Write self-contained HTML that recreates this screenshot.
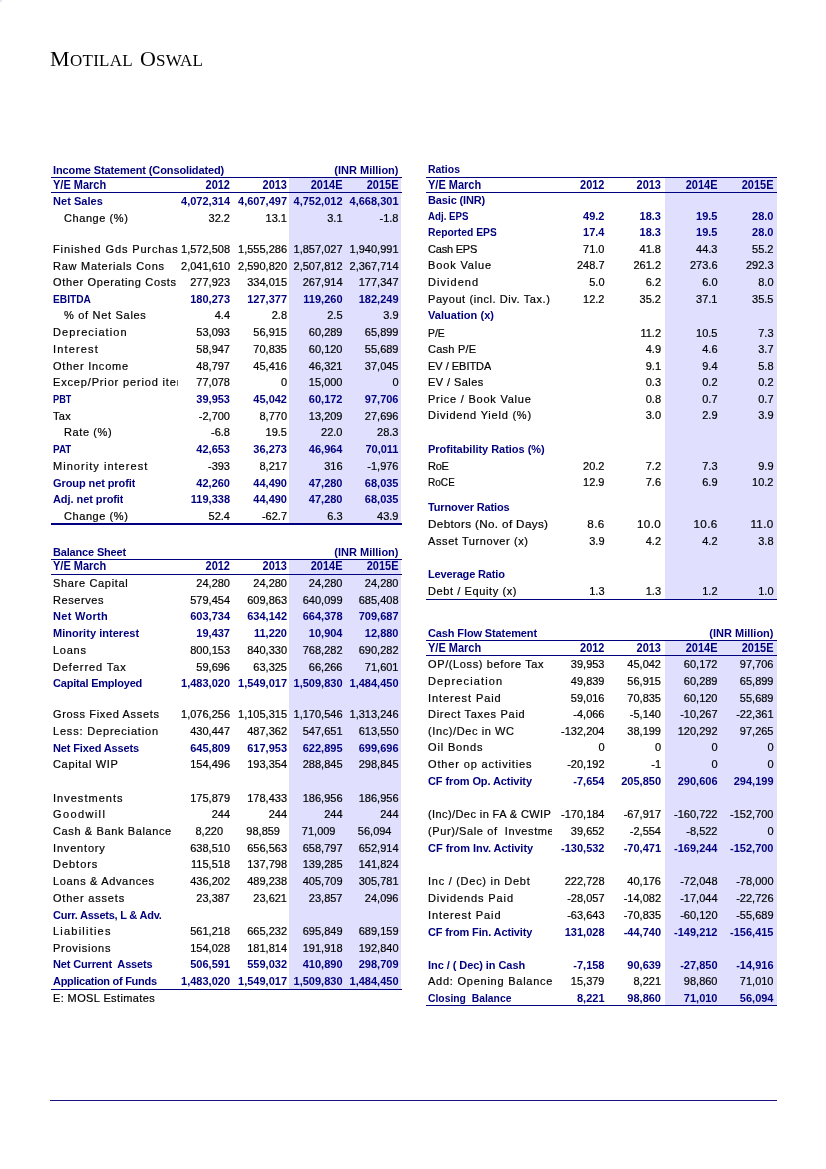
<!DOCTYPE html>
<html><head><meta charset="utf-8"><title>Motilal Oswal - Financials</title>
<style>
html,body{margin:0;padding:0;background:#fff;}
body{width:826px;height:1169px;position:relative;overflow:hidden;font-family:"Liberation Sans",Arial,sans-serif;font-size:11px;color:#000;}
.r{-webkit-text-stroke:0.2px #000;position:absolute;height:14px;line-height:14px;white-space:pre;}
.lb{overflow:hidden;}
.v{width:150px;text-align:right;}
.lb{letter-spacing:0.6px;}
.lb.b{letter-spacing:-0.2px;}
.v.h{transform:scaleY(1.13);transform-origin:0 10.7px;}
.lb.h{font-size:12px;letter-spacing:-0.2px;}
.b{font-weight:bold;color:#00007e;-webkit-text-stroke:0;}
.ln{position:absolute;background:#00007e;}
.sh{position:absolute;background:#e0e0fe;}
.logo{position:absolute;top:45px;font-family:"Liberation Serif","Times New Roman",serif;font-size:17px;letter-spacing:0.3px;color:#000;line-height:28px;height:28px;white-space:nowrap;}
.cap{font-size:22px;}
</style></head><body>
<div class="logo" style="left:50px"><span class="cap">M</span>OTILAL</div><div class="logo" style="left:140px;letter-spacing:0.2px"><span class="cap">O</span>SWAL</div>
<div class="sh" style="left:289px;top:178px;width:112px;height:347px"></div>
<div class="sh" style="left:289px;top:560px;width:112px;height:430px"></div>
<div class="sh" style="left:664.5px;top:178px;width:112.0px;height:422px"></div>
<div class="sh" style="left:664.5px;top:641px;width:112.0px;height:365px"></div>
<div class="r b lb" style="top:162.8px;left:53.0px;letter-spacing:-0.117px;">Income Statement (Consolidated)</div>
<div class="r b v" style="top:162.8px;left:248.5px;">(INR Million)</div>
<div class="ln" style="left:51px;top:177px;width:351px;height:1px"></div>
<div class="r b h lb" style="top:178px;left:53.0px;letter-spacing:0;transform:scaleX(0.9161);transform-origin:0 0;">Y/E March</div>
<div class="r b h v" style="top:178px;left:80px;">2012</div>
<div class="r b h v" style="top:178px;left:137px;">2013</div>
<div class="r b h v" style="top:178px;left:192.5px;">2014E</div>
<div class="r b h v" style="top:178px;left:248.5px;">2015E</div>
<div class="ln" style="left:51px;top:192px;width:351px;height:1px"></div>
<div class="r b lb" style="top:193.8px;left:53.0px;letter-spacing:0.036px;">Net Sales</div>
<div class="r b v" style="top:193.8px;left:80px;">4,072,314</div>
<div class="r b v" style="top:193.8px;left:137px;">4,607,497</div>
<div class="r b v" style="top:193.8px;left:192.5px;">4,752,012</div>
<div class="r b v" style="top:193.8px;left:248.5px;">4,668,301</div>
<div class="r lb" style="top:210.5px;left:64.0px;letter-spacing:0.569px;">Change (%)</div>
<div class="r v" style="top:210.5px;left:80px;">32.2</div>
<div class="r v" style="top:210.5px;left:137px;">13.1</div>
<div class="r v" style="top:210.5px;left:192.5px;">3.1</div>
<div class="r v" style="top:210.5px;left:248.5px;">-1.8</div>
<div class="r lb" style="top:241.7px;left:53.0px;width:125.0px;letter-spacing:0.870px;">Finished Gds Purchase</div>
<div class="r v" style="top:241.7px;left:80px;">1,572,508</div>
<div class="r v" style="top:241.7px;left:137px;">1,555,286</div>
<div class="r v" style="top:241.7px;left:192.5px;">1,857,027</div>
<div class="r v" style="top:241.7px;left:248.5px;">1,940,991</div>
<div class="r lb" style="top:258.6px;left:53.0px;letter-spacing:0.745px;">Raw Materials Cons</div>
<div class="r v" style="top:258.6px;left:80px;">2,041,610</div>
<div class="r v" style="top:258.6px;left:137px;">2,590,820</div>
<div class="r v" style="top:258.6px;left:192.5px;">2,507,812</div>
<div class="r v" style="top:258.6px;left:248.5px;">2,367,714</div>
<div class="r lb" style="top:275.3px;left:53.0px;letter-spacing:0.650px;">Other Operating Costs</div>
<div class="r v" style="top:275.3px;left:80px;">277,923</div>
<div class="r v" style="top:275.3px;left:137px;">334,015</div>
<div class="r v" style="top:275.3px;left:192.5px;">267,914</div>
<div class="r v" style="top:275.3px;left:248.5px;">177,347</div>
<div class="r b lb" style="top:291.8px;left:53.0px;letter-spacing:0;transform:scaleX(0.9250);transform-origin:0 0;">EBITDA</div>
<div class="r b v" style="top:291.8px;left:80px;">180,273</div>
<div class="r b v" style="top:291.8px;left:137px;">127,377</div>
<div class="r b v" style="top:291.8px;left:192.5px;">119,260</div>
<div class="r b v" style="top:291.8px;left:248.5px;">182,249</div>
<div class="r lb" style="top:308.4px;left:64.0px;letter-spacing:0.699px;">% of Net Sales</div>
<div class="r v" style="top:308.4px;left:80px;">4.4</div>
<div class="r v" style="top:308.4px;left:137px;">2.8</div>
<div class="r v" style="top:308.4px;left:192.5px;">2.5</div>
<div class="r v" style="top:308.4px;left:248.5px;">3.9</div>
<div class="r lb" style="top:325.1px;left:53.0px;letter-spacing:1.071px;">Depreciation</div>
<div class="r v" style="top:325.1px;left:80px;">53,093</div>
<div class="r v" style="top:325.1px;left:137px;">56,915</div>
<div class="r v" style="top:325.1px;left:192.5px;">60,289</div>
<div class="r v" style="top:325.1px;left:248.5px;">65,899</div>
<div class="r lb" style="top:341.8px;left:53.0px;letter-spacing:1.149px;">Interest</div>
<div class="r v" style="top:341.8px;left:80px;">58,947</div>
<div class="r v" style="top:341.8px;left:137px;">70,835</div>
<div class="r v" style="top:341.8px;left:192.5px;">60,120</div>
<div class="r v" style="top:341.8px;left:248.5px;">55,689</div>
<div class="r lb" style="top:358.5px;left:53.0px;letter-spacing:0.766px;">Other Income</div>
<div class="r v" style="top:358.5px;left:80px;">48,797</div>
<div class="r v" style="top:358.5px;left:137px;">45,416</div>
<div class="r v" style="top:358.5px;left:192.5px;">46,321</div>
<div class="r v" style="top:358.5px;left:248.5px;">37,045</div>
<div class="r lb" style="top:375.1px;left:53.0px;width:125.0px;letter-spacing:0.840px;">Excep/Prior period items</div>
<div class="r v" style="top:375.1px;left:80px;">77,078</div>
<div class="r v" style="top:375.1px;left:137px;">0</div>
<div class="r v" style="top:375.1px;left:192.5px;">15,000</div>
<div class="r v" style="top:375.1px;left:248.5px;">0</div>
<div class="r b lb" style="top:391.8px;left:53.0px;letter-spacing:0;transform:scaleX(0.8396);transform-origin:0 0;">PBT</div>
<div class="r b v" style="top:391.8px;left:80px;">39,953</div>
<div class="r b v" style="top:391.8px;left:137px;">45,042</div>
<div class="r b v" style="top:391.8px;left:192.5px;">60,172</div>
<div class="r b v" style="top:391.8px;left:248.5px;">97,706</div>
<div class="r lb" style="top:408.5px;left:53.0px;letter-spacing:0.300px;">Tax</div>
<div class="r v" style="top:408.5px;left:80px;">-2,700</div>
<div class="r v" style="top:408.5px;left:137px;">8,770</div>
<div class="r v" style="top:408.5px;left:192.5px;">13,209</div>
<div class="r v" style="top:408.5px;left:248.5px;">27,696</div>
<div class="r lb" style="top:425.2px;left:64.0px;letter-spacing:0.600px;">Rate (%)</div>
<div class="r v" style="top:425.2px;left:80px;">-6.8</div>
<div class="r v" style="top:425.2px;left:137px;">19.5</div>
<div class="r v" style="top:425.2px;left:192.5px;">22.0</div>
<div class="r v" style="top:425.2px;left:248.5px;">28.3</div>
<div class="r b lb" style="top:442.0px;left:53.0px;letter-spacing:0;transform:scaleX(0.9065);transform-origin:0 0;">PAT</div>
<div class="r b v" style="top:442.0px;left:80px;">42,653</div>
<div class="r b v" style="top:442.0px;left:137px;">36,273</div>
<div class="r b v" style="top:442.0px;left:192.5px;">46,964</div>
<div class="r b v" style="top:442.0px;left:248.5px;">70,011</div>
<div class="r lb" style="top:459.0px;left:53.0px;letter-spacing:1.037px;">Minority interest</div>
<div class="r v" style="top:459.0px;left:80px;">-393</div>
<div class="r v" style="top:459.0px;left:137px;">8,217</div>
<div class="r v" style="top:459.0px;left:192.5px;">316</div>
<div class="r v" style="top:459.0px;left:248.5px;">-1,976</div>
<div class="r b lb" style="top:475.6px;left:53.0px;letter-spacing:-0.090px;">Group net profit</div>
<div class="r b v" style="top:475.6px;left:80px;">42,260</div>
<div class="r b v" style="top:475.6px;left:137px;">44,490</div>
<div class="r b v" style="top:475.6px;left:192.5px;">47,280</div>
<div class="r b v" style="top:475.6px;left:248.5px;">68,035</div>
<div class="r b lb" style="top:492.3px;left:53.0px;letter-spacing:-0.069px;">Adj. net profit</div>
<div class="r b v" style="top:492.3px;left:80px;">119,338</div>
<div class="r b v" style="top:492.3px;left:137px;">44,490</div>
<div class="r b v" style="top:492.3px;left:192.5px;">47,280</div>
<div class="r b v" style="top:492.3px;left:248.5px;">68,035</div>
<div class="r lb" style="top:508.6px;left:64.0px;letter-spacing:0.569px;">Change (%)</div>
<div class="r v" style="top:508.6px;left:80px;">52.4</div>
<div class="r v" style="top:508.6px;left:137px;">-62.7</div>
<div class="r v" style="top:508.6px;left:192.5px;">6.3</div>
<div class="r v" style="top:508.6px;left:248.5px;">43.9</div>
<div class="ln" style="left:51px;top:523px;width:351px;height:2px"></div>
<div class="r b lb" style="top:544.5px;left:53.0px;letter-spacing:-0.169px;">Balance Sheet</div>
<div class="r b v" style="top:544.5px;left:248.5px;">(INR Million)</div>
<div class="ln" style="left:51px;top:559px;width:351px;height:1px"></div>
<div class="r b h lb" style="top:559.0px;left:53.0px;letter-spacing:0;transform:scaleX(0.9161);transform-origin:0 0;">Y/E March</div>
<div class="r b h v" style="top:559.0px;left:80px;">2012</div>
<div class="r b h v" style="top:559.0px;left:137px;">2013</div>
<div class="r b h v" style="top:559.0px;left:192.5px;">2014E</div>
<div class="r b h v" style="top:559.0px;left:248.5px;">2015E</div>
<div class="ln" style="left:51px;top:574px;width:351px;height:1px"></div>
<div class="r lb" style="top:576.0px;left:53.0px;letter-spacing:0.673px;">Share Capital</div>
<div class="r v" style="top:576.0px;left:80px;">24,280</div>
<div class="r v" style="top:576.0px;left:137px;">24,280</div>
<div class="r v" style="top:576.0px;left:192.5px;">24,280</div>
<div class="r v" style="top:576.0px;left:248.5px;">24,280</div>
<div class="r lb" style="top:592.6px;left:53.0px;letter-spacing:0.567px;">Reserves</div>
<div class="r v" style="top:592.6px;left:80px;">579,454</div>
<div class="r v" style="top:592.6px;left:137px;">609,863</div>
<div class="r v" style="top:592.6px;left:192.5px;">640,099</div>
<div class="r v" style="top:592.6px;left:248.5px;">685,408</div>
<div class="r b lb" style="top:609.3px;left:53.0px;letter-spacing:0.300px;">Net Worth</div>
<div class="r b v" style="top:609.3px;left:80px;">603,734</div>
<div class="r b v" style="top:609.3px;left:137px;">634,142</div>
<div class="r b v" style="top:609.3px;left:192.5px;">664,378</div>
<div class="r b v" style="top:609.3px;left:248.5px;">709,687</div>
<div class="r b lb" style="top:626.0px;left:53.0px;letter-spacing:0.033px;">Minority interest</div>
<div class="r b v" style="top:626.0px;left:80px;">19,437</div>
<div class="r b v" style="top:626.0px;left:137px;">11,220</div>
<div class="r b v" style="top:626.0px;left:192.5px;">10,904</div>
<div class="r b v" style="top:626.0px;left:248.5px;">12,880</div>
<div class="r lb" style="top:642.8px;left:53.0px;letter-spacing:0.750px;">Loans</div>
<div class="r v" style="top:642.8px;left:80px;">800,153</div>
<div class="r v" style="top:642.8px;left:137px;">840,330</div>
<div class="r v" style="top:642.8px;left:192.5px;">768,282</div>
<div class="r v" style="top:642.8px;left:248.5px;">690,282</div>
<div class="r lb" style="top:659.5px;left:53.0px;letter-spacing:0.905px;">Deferred Tax</div>
<div class="r v" style="top:659.5px;left:80px;">59,696</div>
<div class="r v" style="top:659.5px;left:137px;">63,325</div>
<div class="r v" style="top:659.5px;left:192.5px;">66,266</div>
<div class="r v" style="top:659.5px;left:248.5px;">71,601</div>
<div class="r b lb" style="top:676.0px;left:53.0px;letter-spacing:-0.200px;">Capital Employed</div>
<div class="r b v" style="top:676.0px;left:80px;">1,483,020</div>
<div class="r b v" style="top:676.0px;left:137px;">1,549,017</div>
<div class="r b v" style="top:676.0px;left:192.5px;">1,509,830</div>
<div class="r b v" style="top:676.0px;left:248.5px;">1,484,450</div>
<div class="r lb" style="top:707.4px;left:53.0px;letter-spacing:0.656px;">Gross Fixed Assets</div>
<div class="r v" style="top:707.4px;left:80px;">1,076,256</div>
<div class="r v" style="top:707.4px;left:137px;">1,105,315</div>
<div class="r v" style="top:707.4px;left:192.5px;">1,170,546</div>
<div class="r v" style="top:707.4px;left:248.5px;">1,313,246</div>
<div class="r lb" style="top:723.9px;left:53.0px;letter-spacing:0.818px;">Less: Depreciation</div>
<div class="r v" style="top:723.9px;left:80px;">430,447</div>
<div class="r v" style="top:723.9px;left:137px;">487,362</div>
<div class="r v" style="top:723.9px;left:192.5px;">547,651</div>
<div class="r v" style="top:723.9px;left:248.5px;">613,550</div>
<div class="r b lb" style="top:740.5px;left:53.0px;letter-spacing:-0.142px;">Net Fixed Assets</div>
<div class="r b v" style="top:740.5px;left:80px;">645,809</div>
<div class="r b v" style="top:740.5px;left:137px;">617,953</div>
<div class="r b v" style="top:740.5px;left:192.5px;">622,895</div>
<div class="r b v" style="top:740.5px;left:248.5px;">699,696</div>
<div class="r lb" style="top:757.2px;left:53.0px;letter-spacing:0.680px;">Capital WIP</div>
<div class="r v" style="top:757.2px;left:80px;">154,496</div>
<div class="r v" style="top:757.2px;left:137px;">193,354</div>
<div class="r v" style="top:757.2px;left:192.5px;">288,845</div>
<div class="r v" style="top:757.2px;left:248.5px;">298,845</div>
<div class="r lb" style="top:790.8px;left:53.0px;letter-spacing:1.020px;">Investments</div>
<div class="r v" style="top:790.8px;left:80px;">175,879</div>
<div class="r v" style="top:790.8px;left:137px;">178,433</div>
<div class="r v" style="top:790.8px;left:192.5px;">186,956</div>
<div class="r v" style="top:790.8px;left:248.5px;">186,956</div>
<div class="r lb" style="top:807.4px;left:53.0px;letter-spacing:1.380px;">Goodwill</div>
<div class="r v" style="top:807.4px;left:80px;">244</div>
<div class="r v" style="top:807.4px;left:137px;">244</div>
<div class="r v" style="top:807.4px;left:192.5px;">244</div>
<div class="r v" style="top:807.4px;left:248.5px;">244</div>
<div class="r lb" style="top:824.0px;left:53.0px;letter-spacing:0.622px;">Cash &amp; Bank Balance</div>
<div class="r v" style="top:824.0px;left:73px;">8,220</div>
<div class="r v" style="top:824.0px;left:130px;">98,859</div>
<div class="r v" style="top:824.0px;left:185.5px;">71,009</div>
<div class="r v" style="top:824.0px;left:241.5px;">56,094</div>
<div class="r lb" style="top:840.7px;left:53.0px;letter-spacing:0.825px;">Inventory</div>
<div class="r v" style="top:840.7px;left:80px;">638,510</div>
<div class="r v" style="top:840.7px;left:137px;">656,563</div>
<div class="r v" style="top:840.7px;left:192.5px;">658,797</div>
<div class="r v" style="top:840.7px;left:248.5px;">652,914</div>
<div class="r lb" style="top:857.4px;left:53.0px;letter-spacing:0.973px;">Debtors</div>
<div class="r v" style="top:857.4px;left:80px;">115,518</div>
<div class="r v" style="top:857.4px;left:137px;">137,798</div>
<div class="r v" style="top:857.4px;left:192.5px;">139,285</div>
<div class="r v" style="top:857.4px;left:248.5px;">141,824</div>
<div class="r lb" style="top:874.0px;left:53.0px;letter-spacing:0.666px;">Loans &amp; Advances</div>
<div class="r v" style="top:874.0px;left:80px;">436,202</div>
<div class="r v" style="top:874.0px;left:137px;">489,238</div>
<div class="r v" style="top:874.0px;left:192.5px;">405,709</div>
<div class="r v" style="top:874.0px;left:248.5px;">305,781</div>
<div class="r lb" style="top:890.7px;left:53.0px;letter-spacing:0.798px;">Other assets</div>
<div class="r v" style="top:890.7px;left:80px;">23,387</div>
<div class="r v" style="top:890.7px;left:137px;">23,621</div>
<div class="r v" style="top:890.7px;left:192.5px;">23,857</div>
<div class="r v" style="top:890.7px;left:248.5px;">24,096</div>
<div class="r b lb" style="top:907.5px;left:53.0px;letter-spacing:-0.234px;">Curr. Assets, L &amp; Adv.</div>
<div class="r lb" style="top:924.1px;left:53.0px;letter-spacing:1.220px;">Liabilities</div>
<div class="r v" style="top:924.1px;left:80px;">561,218</div>
<div class="r v" style="top:924.1px;left:137px;">665,232</div>
<div class="r v" style="top:924.1px;left:192.5px;">695,849</div>
<div class="r v" style="top:924.1px;left:248.5px;">689,159</div>
<div class="r lb" style="top:940.6px;left:53.0px;letter-spacing:0.742px;">Provisions</div>
<div class="r v" style="top:940.6px;left:80px;">154,028</div>
<div class="r v" style="top:940.6px;left:137px;">181,814</div>
<div class="r v" style="top:940.6px;left:192.5px;">191,918</div>
<div class="r v" style="top:940.6px;left:248.5px;">192,840</div>
<div class="r b lb" style="top:957.4px;left:53.0px;letter-spacing:-0.144px;">Net Current  Assets</div>
<div class="r b v" style="top:957.4px;left:80px;">506,591</div>
<div class="r b v" style="top:957.4px;left:137px;">559,032</div>
<div class="r b v" style="top:957.4px;left:192.5px;">410,890</div>
<div class="r b v" style="top:957.4px;left:248.5px;">298,709</div>
<div class="r b lb" style="top:974.1px;left:53.0px;letter-spacing:-0.282px;">Application of Funds</div>
<div class="r b v" style="top:974.1px;left:80px;">1,483,020</div>
<div class="r b v" style="top:974.1px;left:137px;">1,549,017</div>
<div class="r b v" style="top:974.1px;left:192.5px;">1,509,830</div>
<div class="r b v" style="top:974.1px;left:248.5px;">1,484,450</div>
<div class="ln" style="left:51px;top:988.5px;width:351px;height:1.5px"></div>
<div class="r lb" style="top:990.7px;left:53.0px;letter-spacing:0.390px;">E: MOSL Estimates</div>
<div class="r b lb" style="top:162.4px;left:428.0px;letter-spacing:0;transform:scaleX(0.9501);transform-origin:0 0;">Ratios</div>
<div class="ln" style="left:426px;top:177px;width:351px;height:1px"></div>
<div class="r b h lb" style="top:177.8px;left:428.0px;letter-spacing:0;transform:scaleX(0.9161);transform-origin:0 0;">Y/E March</div>
<div class="r b h v" style="top:177.8px;left:454.5px;">2012</div>
<div class="r b h v" style="top:177.8px;left:511px;">2013</div>
<div class="r b h v" style="top:177.8px;left:567.5px;">2014E</div>
<div class="r b h v" style="top:177.8px;left:623.5px;">2015E</div>
<div class="ln" style="left:426px;top:192px;width:351px;height:1px"></div>
<div class="r b lb" style="top:193.4px;left:428.0px;letter-spacing:-0.140px;">Basic (INR)</div>
<div class="r b lb" style="top:208.5px;left:428.0px;letter-spacing:0;transform:scaleX(0.8827);transform-origin:0 0;">Adj. EPS</div>
<div class="r b v" style="top:208.5px;left:454.5px;">49.2</div>
<div class="r b v" style="top:208.5px;left:511px;">18.3</div>
<div class="r b v" style="top:208.5px;left:567.5px;">19.5</div>
<div class="r b v" style="top:208.5px;left:623.5px;">28.0</div>
<div class="r b lb" style="top:225.0px;left:428.0px;letter-spacing:0;transform:scaleX(0.9390);transform-origin:0 0;">Reported EPS</div>
<div class="r b v" style="top:225.0px;left:454.5px;">17.4</div>
<div class="r b v" style="top:225.0px;left:511px;">18.3</div>
<div class="r b v" style="top:225.0px;left:567.5px;">19.5</div>
<div class="r b v" style="top:225.0px;left:623.5px;">28.0</div>
<div class="r lb" style="top:241.7px;left:428.0px;letter-spacing:-0.202px;">Cash EPS</div>
<div class="r v" style="top:241.7px;left:454.5px;">71.0</div>
<div class="r v" style="top:241.7px;left:511px;">41.8</div>
<div class="r v" style="top:241.7px;left:567.5px;">44.3</div>
<div class="r v" style="top:241.7px;left:623.5px;">55.2</div>
<div class="r lb" style="top:258.3px;left:428.0px;letter-spacing:0.862px;">Book Value</div>
<div class="r v" style="top:258.3px;left:454.5px;">248.7</div>
<div class="r v" style="top:258.3px;left:511px;">261.2</div>
<div class="r v" style="top:258.3px;left:567.5px;">273.6</div>
<div class="r v" style="top:258.3px;left:623.5px;">292.3</div>
<div class="r lb" style="top:275.1px;left:428.0px;letter-spacing:1.051px;">Dividend</div>
<div class="r v" style="top:275.1px;left:454.5px;">5.0</div>
<div class="r v" style="top:275.1px;left:511px;">6.2</div>
<div class="r v" style="top:275.1px;left:567.5px;">6.0</div>
<div class="r v" style="top:275.1px;left:623.5px;">8.0</div>
<div class="r lb" style="top:291.7px;left:428.0px;letter-spacing:0.585px;">Payout (incl. Div. Tax.)</div>
<div class="r v" style="top:291.7px;left:454.5px;">12.2</div>
<div class="r v" style="top:291.7px;left:511px;">35.2</div>
<div class="r v" style="top:291.7px;left:567.5px;">37.1</div>
<div class="r v" style="top:291.7px;left:623.5px;">35.5</div>
<div class="r b lb" style="top:308.3px;left:428.0px;letter-spacing:0.050px;">Valuation (x)</div>
<div class="r lb" style="top:325.6px;left:428.0px;letter-spacing:0;transform:scaleX(0.9442);transform-origin:0 0;">P/E</div>
<div class="r v" style="top:325.6px;left:511px;">11.2</div>
<div class="r v" style="top:325.6px;left:567.5px;">10.5</div>
<div class="r v" style="top:325.6px;left:623.5px;">7.3</div>
<div class="r lb" style="top:341.8px;left:428.0px;letter-spacing:0.249px;">Cash P/E</div>
<div class="r v" style="top:341.8px;left:511px;">4.9</div>
<div class="r v" style="top:341.8px;left:567.5px;">4.6</div>
<div class="r v" style="top:341.8px;left:623.5px;">3.7</div>
<div class="r lb" style="top:358.6px;left:428.0px;letter-spacing:-0.020px;">EV / EBITDA</div>
<div class="r v" style="top:358.6px;left:511px;">9.1</div>
<div class="r v" style="top:358.6px;left:567.5px;">9.4</div>
<div class="r v" style="top:358.6px;left:623.5px;">5.8</div>
<div class="r lb" style="top:375.3px;left:428.0px;letter-spacing:0.438px;">EV / Sales</div>
<div class="r v" style="top:375.3px;left:511px;">0.3</div>
<div class="r v" style="top:375.3px;left:567.5px;">0.2</div>
<div class="r v" style="top:375.3px;left:623.5px;">0.2</div>
<div class="r lb" style="top:391.8px;left:428.0px;letter-spacing:0.773px;">Price / Book Value</div>
<div class="r v" style="top:391.8px;left:511px;">0.8</div>
<div class="r v" style="top:391.8px;left:567.5px;">0.7</div>
<div class="r v" style="top:391.8px;left:623.5px;">0.7</div>
<div class="r lb" style="top:408.4px;left:428.0px;letter-spacing:0.776px;">Dividend Yield (%)</div>
<div class="r v" style="top:408.4px;left:511px;">3.0</div>
<div class="r v" style="top:408.4px;left:567.5px;">2.9</div>
<div class="r v" style="top:408.4px;left:623.5px;">3.9</div>
<div class="r b lb" style="top:442.0px;left:428.0px;letter-spacing:-0.026px;">Profitability Ratios (%)</div>
<div class="r lb" style="top:458.7px;left:428.0px;letter-spacing:-0.300px;">RoE</div>
<div class="r v" style="top:458.7px;left:454.5px;">20.2</div>
<div class="r v" style="top:458.7px;left:511px;">7.2</div>
<div class="r v" style="top:458.7px;left:567.5px;">7.3</div>
<div class="r v" style="top:458.7px;left:623.5px;">9.9</div>
<div class="r lb" style="top:475.3px;left:428.0px;letter-spacing:0;transform:scaleX(0.9151);transform-origin:0 0;">RoCE</div>
<div class="r v" style="top:475.3px;left:454.5px;">12.9</div>
<div class="r v" style="top:475.3px;left:511px;">7.6</div>
<div class="r v" style="top:475.3px;left:567.5px;">6.9</div>
<div class="r v" style="top:475.3px;left:623.5px;">10.2</div>
<div class="r b lb" style="top:500.3px;left:428.0px;letter-spacing:-0.129px;">Turnover Ratios</div>
<div class="r lb" style="top:517.3px;left:428.0px;font-size:11.7px;letter-spacing:0.3px;letter-spacing:0.350px;">Debtors (No. of Days)</div>
<div class="r v" style="top:517.3px;left:454.5px;font-size:11.7px;letter-spacing:0.3px;">8.6</div>
<div class="r v" style="top:517.3px;left:511px;font-size:11.7px;letter-spacing:0.3px;">10.0</div>
<div class="r v" style="top:517.3px;left:567.5px;font-size:11.7px;letter-spacing:0.3px;">10.6</div>
<div class="r v" style="top:517.3px;left:623.5px;font-size:11.7px;letter-spacing:0.3px;">11.0</div>
<div class="r lb" style="top:533.7px;left:428.0px;letter-spacing:0.597px;">Asset Turnover (x)</div>
<div class="r v" style="top:533.7px;left:454.5px;">3.9</div>
<div class="r v" style="top:533.7px;left:511px;">4.2</div>
<div class="r v" style="top:533.7px;left:567.5px;">4.2</div>
<div class="r v" style="top:533.7px;left:623.5px;">3.8</div>
<div class="r b lb" style="top:567.2px;left:428.0px;letter-spacing:-0.145px;">Leverage Ratio</div>
<div class="r lb" style="top:583.7px;left:428.0px;letter-spacing:0.600px;">Debt / Equity (x)</div>
<div class="r v" style="top:583.7px;left:454.5px;">1.3</div>
<div class="r v" style="top:583.7px;left:511px;">1.3</div>
<div class="r v" style="top:583.7px;left:567.5px;">1.2</div>
<div class="r v" style="top:583.7px;left:623.5px;">1.0</div>
<div class="ln" style="left:426px;top:598.5px;width:351px;height:1.5px"></div>
<div class="r b lb" style="top:625.5px;left:428.0px;letter-spacing:-0.122px;">Cash Flow Statement</div>
<div class="r b v" style="top:625.5px;left:623.5px;">(INR Million)</div>
<div class="ln" style="left:426px;top:640px;width:351px;height:1px"></div>
<div class="r b h lb" style="top:640.6px;left:428.0px;letter-spacing:0;transform:scaleX(0.9161);transform-origin:0 0;">Y/E March</div>
<div class="r b h v" style="top:640.6px;left:454.5px;">2012</div>
<div class="r b h v" style="top:640.6px;left:511px;">2013</div>
<div class="r b h v" style="top:640.6px;left:567.5px;">2014E</div>
<div class="r b h v" style="top:640.6px;left:623.5px;">2015E</div>
<div class="ln" style="left:426px;top:655px;width:351px;height:1px"></div>
<div class="r lb" style="top:657.0px;left:428.0px;letter-spacing:0.619px;">OP/(Loss) before Tax</div>
<div class="r v" style="top:657.0px;left:454.5px;">39,953</div>
<div class="r v" style="top:657.0px;left:511px;">45,042</div>
<div class="r v" style="top:657.0px;left:567.5px;">60,172</div>
<div class="r v" style="top:657.0px;left:623.5px;">97,706</div>
<div class="r lb" style="top:673.6px;left:428.0px;letter-spacing:1.119px;">Depreciation</div>
<div class="r v" style="top:673.6px;left:454.5px;">49,839</div>
<div class="r v" style="top:673.6px;left:511px;">56,915</div>
<div class="r v" style="top:673.6px;left:567.5px;">60,289</div>
<div class="r v" style="top:673.6px;left:623.5px;">65,899</div>
<div class="r lb" style="top:690.6px;left:428.0px;letter-spacing:0.913px;">Interest Paid</div>
<div class="r v" style="top:690.6px;left:454.5px;">59,016</div>
<div class="r v" style="top:690.6px;left:511px;">70,835</div>
<div class="r v" style="top:690.6px;left:567.5px;">60,120</div>
<div class="r v" style="top:690.6px;left:623.5px;">55,689</div>
<div class="r lb" style="top:707.4px;left:428.0px;letter-spacing:0.707px;">Direct Taxes Paid</div>
<div class="r v" style="top:707.4px;left:454.5px;">-4,066</div>
<div class="r v" style="top:707.4px;left:511px;">-5,140</div>
<div class="r v" style="top:707.4px;left:567.5px;">-10,267</div>
<div class="r v" style="top:707.4px;left:623.5px;">-22,361</div>
<div class="r lb" style="top:723.9px;left:428.0px;letter-spacing:0.600px;">(Inc)/Dec in WC</div>
<div class="r v" style="top:723.9px;left:454.5px;">-132,204</div>
<div class="r v" style="top:723.9px;left:511px;">38,199</div>
<div class="r v" style="top:723.9px;left:567.5px;">120,292</div>
<div class="r v" style="top:723.9px;left:623.5px;">97,265</div>
<div class="r lb" style="top:740.4px;left:428.0px;letter-spacing:0.850px;">Oil Bonds</div>
<div class="r v" style="top:740.4px;left:454.5px;">0</div>
<div class="r v" style="top:740.4px;left:511px;">0</div>
<div class="r v" style="top:740.4px;left:567.5px;">0</div>
<div class="r v" style="top:740.4px;left:623.5px;">0</div>
<div class="r lb" style="top:757.2px;left:428.0px;letter-spacing:0.860px;">Other op activities</div>
<div class="r v" style="top:757.2px;left:454.5px;">-20,192</div>
<div class="r v" style="top:757.2px;left:511px;">-1</div>
<div class="r v" style="top:757.2px;left:567.5px;">0</div>
<div class="r v" style="top:757.2px;left:623.5px;">0</div>
<div class="r b lb" style="top:773.6px;left:428.0px;letter-spacing:-0.101px;">CF from Op. Activity</div>
<div class="r b v" style="top:773.6px;left:454.5px;">-7,654</div>
<div class="r b v" style="top:773.6px;left:511px;">205,850</div>
<div class="r b v" style="top:773.6px;left:567.5px;">290,606</div>
<div class="r b v" style="top:773.6px;left:623.5px;">294,199</div>
<div class="r lb" style="top:807.2px;left:428.0px;width:124.0px;letter-spacing:0.410px;">(Inc)/Dec in FA &amp; CWIP</div>
<div class="r v" style="top:807.2px;left:454.5px;">-170,184</div>
<div class="r v" style="top:807.2px;left:511px;">-67,917</div>
<div class="r v" style="top:807.2px;left:567.5px;">-160,722</div>
<div class="r v" style="top:807.2px;left:623.5px;">-152,700</div>
<div class="r lb" style="top:823.9px;left:428.0px;width:124.0px;">(Pur)/Sale of  Investments</div>
<div class="r v" style="top:823.9px;left:454.5px;">39,652</div>
<div class="r v" style="top:823.9px;left:511px;">-2,554</div>
<div class="r v" style="top:823.9px;left:567.5px;">-8,522</div>
<div class="r v" style="top:823.9px;left:623.5px;">0</div>
<div class="r b lb" style="top:840.6px;left:428.0px;letter-spacing:-0.030px;">CF from Inv. Activity</div>
<div class="r b v" style="top:840.6px;left:454.5px;">-130,532</div>
<div class="r b v" style="top:840.6px;left:511px;">-70,471</div>
<div class="r b v" style="top:840.6px;left:567.5px;">-169,244</div>
<div class="r b v" style="top:840.6px;left:623.5px;">-152,700</div>
<div class="r lb" style="top:873.8px;left:428.0px;letter-spacing:0.729px;">Inc / (Dec) in Debt</div>
<div class="r v" style="top:873.8px;left:454.5px;">222,728</div>
<div class="r v" style="top:873.8px;left:511px;">40,176</div>
<div class="r v" style="top:873.8px;left:567.5px;">-72,048</div>
<div class="r v" style="top:873.8px;left:623.5px;">-78,000</div>
<div class="r lb" style="top:890.7px;left:428.0px;letter-spacing:0.897px;">Dividends Paid</div>
<div class="r v" style="top:890.7px;left:454.5px;">-28,057</div>
<div class="r v" style="top:890.7px;left:511px;">-14,082</div>
<div class="r v" style="top:890.7px;left:567.5px;">-17,044</div>
<div class="r v" style="top:890.7px;left:623.5px;">-22,726</div>
<div class="r lb" style="top:907.6px;left:428.0px;letter-spacing:0.902px;">Interest Paid</div>
<div class="r v" style="top:907.6px;left:454.5px;">-63,643</div>
<div class="r v" style="top:907.6px;left:511px;">-70,835</div>
<div class="r v" style="top:907.6px;left:567.5px;">-60,120</div>
<div class="r v" style="top:907.6px;left:623.5px;">-55,689</div>
<div class="r b lb" style="top:924.5px;left:428.0px;letter-spacing:-0.140px;">CF from Fin. Activity</div>
<div class="r b v" style="top:924.5px;left:454.5px;">131,028</div>
<div class="r b v" style="top:924.5px;left:511px;">-44,740</div>
<div class="r b v" style="top:924.5px;left:567.5px;">-149,212</div>
<div class="r b v" style="top:924.5px;left:623.5px;">-156,415</div>
<div class="r b lb" style="top:957.5px;left:428.0px;letter-spacing:-0.065px;">Inc / ( Dec) in Cash</div>
<div class="r b v" style="top:957.5px;left:454.5px;">-7,158</div>
<div class="r b v" style="top:957.5px;left:511px;">90,639</div>
<div class="r b v" style="top:957.5px;left:567.5px;">-27,850</div>
<div class="r b v" style="top:957.5px;left:623.5px;">-14,916</div>
<div class="r lb" style="top:974.4px;left:428.0px;letter-spacing:0.758px;">Add: Opening Balance</div>
<div class="r v" style="top:974.4px;left:454.5px;">15,379</div>
<div class="r v" style="top:974.4px;left:511px;">8,221</div>
<div class="r v" style="top:974.4px;left:567.5px;">98,860</div>
<div class="r v" style="top:974.4px;left:623.5px;">71,010</div>
<div class="r b lb" style="top:990.6px;left:428.0px;letter-spacing:0;transform:scaleX(0.9408);transform-origin:0 0;">Closing  Balance</div>
<div class="r b v" style="top:990.6px;left:454.5px;">8,221</div>
<div class="r b v" style="top:990.6px;left:511px;">98,860</div>
<div class="r b v" style="top:990.6px;left:567.5px;">71,010</div>
<div class="r b v" style="top:990.6px;left:623.5px;">56,094</div>
<div class="ln" style="left:426px;top:1004.5px;width:351px;height:1.5px"></div>
<div style="position:absolute;left:0;top:0;width:2px;height:2px;background:#e4e4f4"></div>
<div class="ln" style="left:50px;top:1100px;width:727px;height:1px;background:#1a1080"></div>
</body></html>
